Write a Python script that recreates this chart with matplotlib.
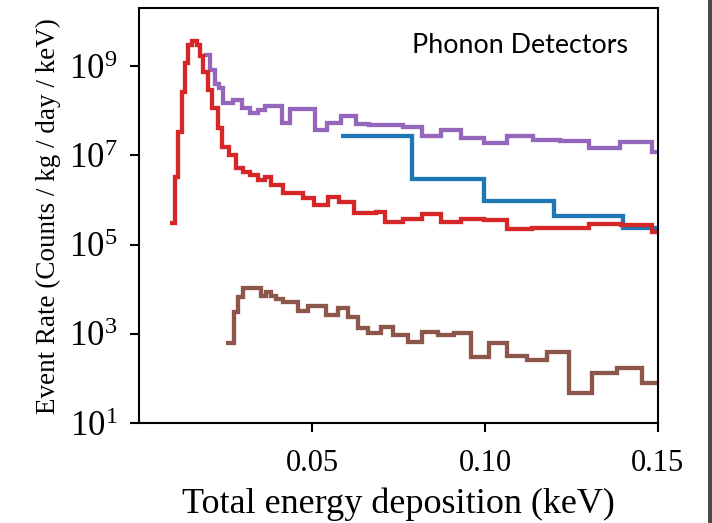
import matplotlib
matplotlib.use("Agg")
import matplotlib.pyplot as plt
from matplotlib.patches import Rectangle
import numpy as np

# ---- data (bin edges in keV, rates in counts/kg/day/keV) ----
red_edges = [0.00893, 0.01037, 0.01133, 0.01231, 0.01326, 0.01421, 0.01519, 0.01663,
             0.01758, 0.01853, 0.01997, 0.02124, 0.02285, 0.02412, 0.02602, 0.02795,
             0.03006, 0.03219, 0.03438, 0.03631, 0.03824, 0.04159, 0.04735, 0.05072,
             0.05455, 0.05793, 0.06225, 0.06850, 0.07118, 0.07617, 0.08193, 0.08723,
             0.09300, 0.09971, 0.10643, 0.11363, 0.12997, 0.13919, 0.14841, 0.1510]
red_vals = [3.10e5, 3.33e6, 3.40e7, 2.60e8, 1.16e9, 2.99e9, 3.73e9, 2.99e9,
            1.69e9, 7.41e8, 2.93e8, 1.14e8, 4.05e7, 1.57e7, 1.02e7, 5.14e6,
            4.31e6, 3.64e6, 2.81e6, 3.33e6, 2.17e6, 1.41e6, 1.11e6, 7.73e5,
            1.14e6, 9.02e5, 5.04e5, 5.47e5, 3.26e5, 3.69e5, 4.78e5, 3.26e5,
            3.85e5, 3.65e5, 2.20e5, 2.30e5, 2.93e5, 2.75e5, 1.95e5]

purple_edges = [0.01873, 0.02046, 0.02190, 0.02305, 0.02421, 0.02718, 0.02968, 0.03199,
                0.03438, 0.03631, 0.04121, 0.04352, 0.05101, 0.05447, 0.05850, 0.06282,
                0.06657, 0.07617, 0.08170, 0.08723, 0.09308, 0.09971, 0.10643, 0.11383,
                0.12161, 0.12997, 0.13890, 0.14841, 0.1510]
purple_vals = [1.78e9, 8.22e8, 3.99e8, 3.33e8, 1.53e8, 1.79e8, 1.13e8, 8.79e7,
               1.07e8, 1.31e8, 5.47e7, 1.11e8, 3.81e7, 5.47e7, 7.57e7, 5.16e7,
               4.81e7, 4.29e7, 2.79e7, 3.66e7, 2.42e7, 1.93e7, 2.68e7, 2.21e7,
               2.07e7, 1.47e7, 2.03e7, 1.21e7]

blue_edges = [0.0584, 0.0790, 0.0997, 0.1200, 0.1398, 0.1600]
blue_vals = [2.72e7, 2.99e6, 9.40e5, 4.38e5, 2.32e5]

brown_edges = [0.02527, 0.02738, 0.02862, 0.03006, 0.03536, 0.03680, 0.03824, 0.03968,
               0.04159, 0.04591, 0.04879, 0.05409, 0.05744, 0.06032, 0.06320, 0.06608,
               0.06994, 0.07349, 0.07761, 0.08170, 0.08646, 0.09107, 0.09588, 0.10115,
               0.10643, 0.11219, 0.11795, 0.12421, 0.13092, 0.13804, 0.14533, 0.1510]
brown_vals = [6.31e2, 3.03e3, 6.79e3, 1.05e4, 7.04e3, 8.79e3, 7.04e3, 5.94e3,
              5.30e3, 3.33e3, 4.20e3, 2.64e3, 3.73e3, 2.42e3, 1.33e3, 1.06e3,
              1.42e3, 9.40e2, 6.65e2, 1.11e3, 9.25e2, 1.03e3, 3.02e2, 6.12e2,
              3.26e2, 2.55e2, 3.87e2, 4.63e1, 1.30e2, 1.68e2, 7.89e1]

x_ticks = [0.05, 0.10, 0.15]
x_ticklabels = ["0.05", "0.10", "0.15"]
y_ticks = [1e1, 1e3, 1e5, 1e7, 1e9]

# ---- style ----
plt.rcParams["font.family"] = ["Liberation Serif", "DejaVu Serif"]
plt.rcParams["mathtext.fontset"] = "stix"

fig = plt.figure(figsize=(7.12, 5.23), dpi=100)
ax = fig.add_axes([139 / 712, 1 - 423 / 523, (658 - 139) / 712, 414.8 / 523])

lw = 3.1
ax.stairs(purple_vals, purple_edges, baseline=None, color="#9467bd", lw=lw)
ax.stairs(blue_vals, blue_edges, baseline=None, color="#1f77b4", lw=lw)
ax.stairs(red_vals, red_edges, baseline=None, color="#d62728", lw=lw)
ax.stairs(brown_vals, brown_edges, baseline=None, color="#8c564b", lw=lw)

ax.set_yscale("log")
ax.set_xlim(0, 0.15)
ax.set_ylim(10, 2e10)
ax.set_xticks(x_ticks)
ax.set_xticklabels(x_ticklabels)
ax.set_yticks(y_ticks)
ax.yaxis.set_minor_locator(matplotlib.ticker.NullLocator())
ax.xaxis.set_minor_locator(matplotlib.ticker.NullLocator())
ax.tick_params(axis="both", which="major", direction="out", length=6.5, width=1.5)
ax.tick_params(axis="y", pad=9, labelsize=25)
ax.tick_params(axis="x", pad=12, labelsize=22)
for s in ax.spines.values():
    s.set_linewidth(1.5)

ax.set_xlabel("Total energy deposition (keV)", fontsize=26, labelpad=7)
ax.set_ylabel("Event Rate (Counts / kg / day / keV)", fontsize=19.5, labelpad=6)

ax.text(0.735, 0.91, "Phonon Detectors", transform=ax.transAxes, ha="center",
        va="center", fontsize=19.3, family=["Lato", "DejaVu Sans"])

# thin dark strip at the right edge of the screenshot
fig.add_artist(Rectangle((708 / 712, 0), 4 / 712, 1, transform=fig.transFigure,
                         facecolor="#4a4a4a", edgecolor="none"))

fig.savefig("out.png", dpi=100)
